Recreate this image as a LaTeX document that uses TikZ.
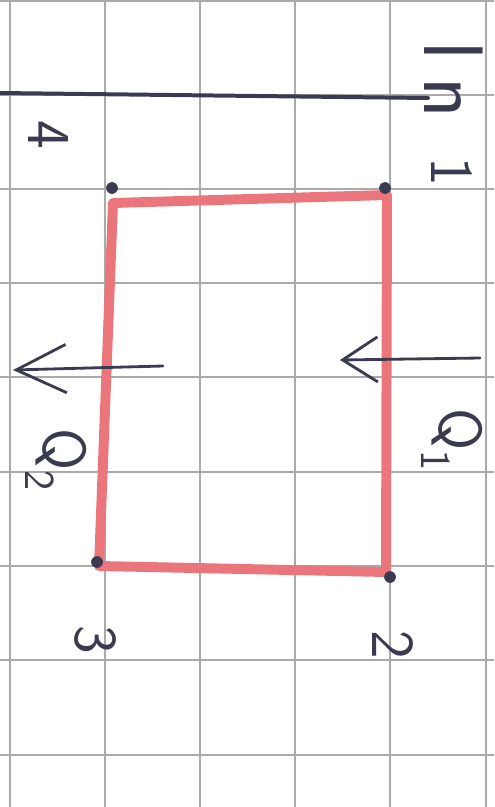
\documentclass[tikz,border=0pt]{standalone}
\usepackage{tikz}
\usetikzlibrary{positioning,arrows.meta}
\definecolor{penred}{RGB}{234,118,124}
\definecolor{penink}{RGB}{58,58,80}
\definecolor{gridgray}{RGB}{170,170,170}

\begin{document}
\begin{tikzpicture}[
  x=0.03cm, y=-0.03cm,
  font=\sffamily\fontsize{52}{52}\selectfont,
  gridline/.style={gridgray, line width=1.5pt},
  cycleline/.style={penred, line width=8.5pt, line cap=round, line join=round},
  inkline/.style={penink, line width=2.4pt, line cap=round},
  inklabel/.style={text=penink, rotate=-90, inner sep=0pt},
  cornerdot/.style={circle, fill=penink, inner sep=0pt, minimum size=10pt}
]
\useasboundingbox (0,0) rectangle (494,807);

% ---- Squared paper ----
\begin{scope}
  \clip (0,0) rectangle (494,807);
  \foreach \gx in {10,105,200,295,390,486} {
    \draw[gridline] (\gx,0) -- (\gx,807);
  }
  \foreach \gy in {1,95,189,283,377,472,566,660,755} {
    \draw[gridline] (0,\gy) -- (494,\gy);
  }
\end{scope}

% ---- Axis at the top ----
\node[inklabel, font=\sffamily\fontsize{72}{72}\selectfont] (labax) at (454,80) {l\hspace{0.2em}n};
\coordinate (axfrom) at (0,93);
\coordinate (axto) at (428,98);
\draw[inkline, line width=3.4pt] (axfrom) -- (axto);

% ---- Cycle 1-2-3-4 ----
\coordinate (r4) at (113,203);
\coordinate (r1) at (387,195);
\coordinate (r2) at (386,572);
\coordinate (r3) at (99,566);
\draw[cycleline] (r4) -- (r1) -- (r2) -- (r3) -- cycle;

\node[cornerdot] (c4) at (112,188) {};
\node[cornerdot] (c1) at (385,188) {};
\node[cornerdot] (c2) at (390,577) {};
\node[cornerdot] (c3) at (97,562) {};

% ---- Heat flows ----
\coordinate (q1from) at (480,358);
\coordinate (q1to) at (340,360);
\draw[inkline, -{Straight Barb[length=1.05cm,width=1.35cm]}] (q1from) -- (q1to);

\coordinate (q2from) at (163,366);
\coordinate (q2to) at (13,370);
\draw[inkline, -{Straight Barb[length=1.5cm,width=1.45cm]}] (q2from) -- (q2to);

% ---- Labels ----
\node[inklabel] (lab4) at (48,135) {4};
\node[inklabel] (lab1) at (452,172) {1};
\node[inklabel] (lab2) at (393,645) {2};
\node[inklabel] (lab3) at (95,640) {3};
\node[inklabel] (labq1) at (452,440) {Q\textsubscript{1}};
\node[inklabel] (labq2) at (56,460) {Q\textsubscript{2}};

\end{tikzpicture}
\end{document}
